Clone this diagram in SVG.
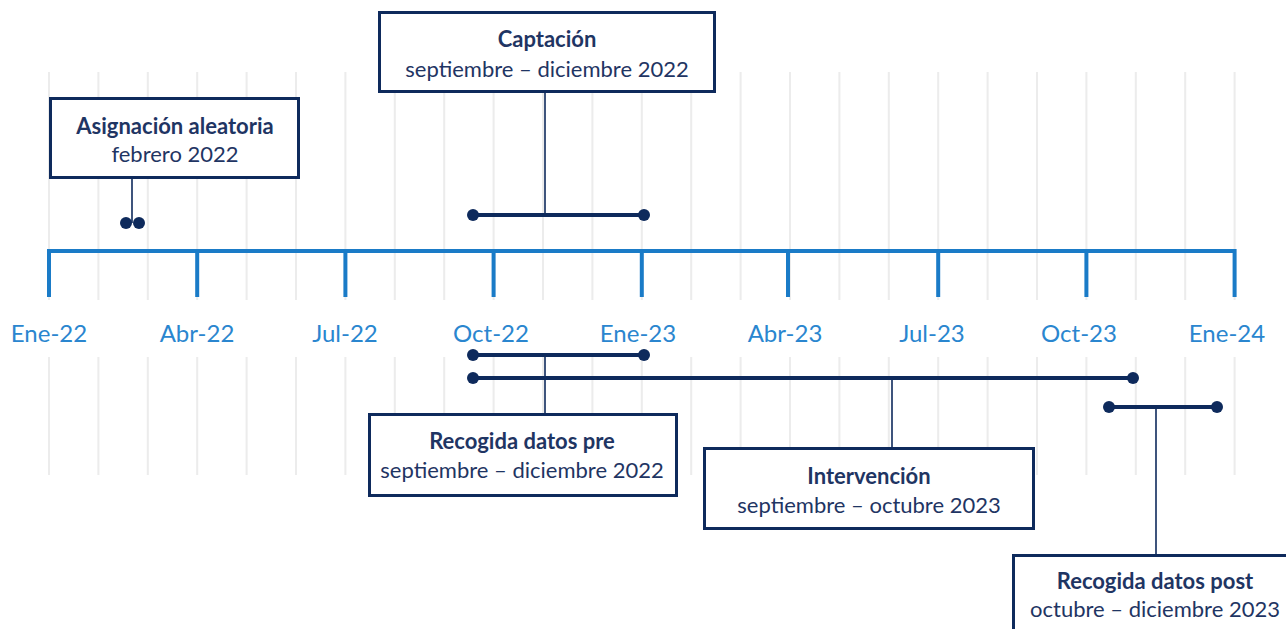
<svg xmlns="http://www.w3.org/2000/svg" width="1286" height="629" viewBox="0 0 1286 629">
<style>
.grid{stroke:#ececec;stroke-width:2}
.axis{stroke:#1a7bc7;stroke-width:4;fill:none}
.tick{font-family:Lato,"Open Sans",sans-serif;font-size:24px;fill:#2a86cf;text-anchor:middle}
.box{fill:#ffffff;stroke:#0e2a5c;stroke-width:3}
.t{font-family:Lato,"Open Sans",sans-serif;font-size:22px;font-weight:bold;fill:#1f3563;text-anchor:middle}
.s{font-family:Lato,"Open Sans",sans-serif;font-size:22px;fill:#1f3563;text-anchor:middle}
.bar{stroke:#0e2a5c;stroke-width:4}
.lead{stroke:#0e2a5c;stroke-width:1.6}
.dot{fill:#0e2a5c}
</style>
<rect width="1286" height="629" fill="#ffffff"/>
<g id="grid">
<path class="grid" d="M49,72V300M98.4,72V300M147.8,72V300M197.2,72V300M246.6,72V300M296,72V300M345.4,72V300M394.8,72V300M444.2,72V300M493.6,72V300M543,72V300M592.4,72V300M641.8,72V300M691.2,72V300M740.6,72V300M790,72V300M839.4,72V300M888.8,72V300M938.2,72V300M987.6,72V300M1037,72V300M1086.4,72V300M1135.8,72V300M1185.2,72V300M1234.6,72V300"/>
<path class="grid" d="M49,357V475M98.4,357V475M147.8,357V475M197.2,357V475M246.6,357V475M296,357V475M345.4,357V475M394.8,357V475M444.2,357V475M493.6,357V475M543,357V475M592.4,357V475M641.8,357V475M691.2,357V475M740.6,357V475M790,357V475M839.4,357V475M888.8,357V475M938.2,357V475M987.6,357V475M1037,357V475M1086.4,357V475M1135.8,357V475M1185.2,357V475M1234.6,357V475"/>
</g>
<g id="axis">
<path class="axis" d="M49,297V251H1234.6V297M197.2,251V297M345.4,251V297M493.6,251V297M641.8,251V297M788,251V297M938.2,251V297M1086.4,251V297"/>
<text class="tick" x="49" y="342">Ene-22</text>
<text class="tick" x="197" y="342">Abr-22</text>
<text class="tick" x="345" y="342">Jul-22</text>
<text class="tick" x="491" y="342">Oct-22</text>
<text class="tick" x="638" y="342">Ene-23</text>
<text class="tick" x="785" y="342">Abr-23</text>
<text class="tick" x="932" y="342">Jul-23</text>
<text class="tick" x="1079" y="342">Oct-23</text>
<text class="tick" x="1227" y="342">Ene-24</text>
</g>
<g id="connectors">
<line class="lead" x1="132" y1="178" x2="132" y2="223"/>
<circle class="dot" cx="126" cy="223" r="6"/>
<circle class="dot" cx="139" cy="223" r="6"/>
<line class="lead" x1="545" y1="92" x2="545" y2="215"/>
<line class="bar" x1="473" y1="215" x2="644" y2="215"/>
<circle class="dot" cx="473" cy="215" r="6"/>
<circle class="dot" cx="644" cy="215" r="6"/>
<line class="lead" x1="545" y1="355" x2="545" y2="414"/>
<line class="bar" x1="473" y1="355" x2="644" y2="355"/>
<circle class="dot" cx="473" cy="355" r="6"/>
<circle class="dot" cx="644" cy="355" r="6"/>
<line class="lead" x1="892" y1="378" x2="892" y2="448"/>
<line class="bar" x1="473" y1="378" x2="1133" y2="378"/>
<circle class="dot" cx="473" cy="378" r="6"/>
<circle class="dot" cx="1133" cy="378" r="6"/>
<line class="lead" x1="1156" y1="407" x2="1156" y2="555"/>
<line class="bar" x1="1109" y1="407" x2="1217" y2="407"/>
<circle class="dot" cx="1109" cy="407" r="6"/>
<circle class="dot" cx="1217" cy="407" r="6"/>
</g>
<g id="asignacion">
<rect class="box" x="50.5" y="98.5" width="248" height="79"/>
<text class="t" x="175" y="134">Asignación aleatoria</text>
<text class="s" x="175" y="162">febrero 2022</text>
</g>
<g id="captacion">
<rect class="box" x="379.5" y="12.5" width="335" height="79"/>
<text class="t" x="547" y="47">Captación</text>
<text class="s" x="547" y="77">septiembre – diciembre 2022</text>
</g>
<g id="recogida-pre">
<rect class="box" x="369.5" y="414.5" width="307" height="81"/>
<text class="t" x="522" y="449">Recogida datos pre</text>
<text class="s" x="522" y="478">septiembre – diciembre 2022</text>
</g>
<g id="intervencion">
<rect class="box" x="704.5" y="448.5" width="329" height="80"/>
<text class="t" x="869" y="484">Intervención</text>
<text class="s" x="869" y="513">septiembre – octubre 2023</text>
</g>
<g id="recogida-post">
<rect class="box" x="1013.5" y="555.5" width="290" height="90"/>
<text class="t" x="1155" y="589">Recogida datos post</text>
<text class="s" x="1155" y="617">octubre – diciembre 2023</text>
</g>
</svg>
